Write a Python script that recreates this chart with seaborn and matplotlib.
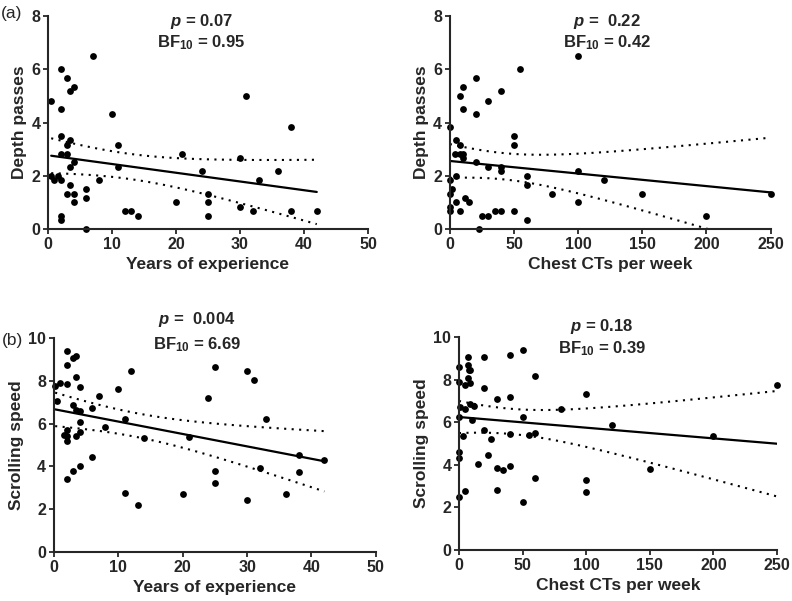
import numpy as np
import pandas as pd
import seaborn as sns
import matplotlib
matplotlib.use("Agg")
import matplotlib.pyplot as plt

# Dados
anos_a = [0.5, 0.5, 1, 1.5, 2, 2, 2, 2, 2, 2, 2, 3, 3.5, 4, 3.5, 3, 3, 3.5, 4, 3.5,
          3, 4, 4, 6, 6, 6, 7, 8, 10, 11, 11, 12, 13, 14, 20, 21, 24, 25, 25, 25,
          30, 30, 31, 32, 33, 36, 38, 38, 42]
depth_a = [4.83, 2.0, 1.83, 2.0, 6.0, 4.5, 3.5, 2.83, 1.83, 0.5, 0.33, 5.67, 5.17, 5.33,
           3.33, 3.17, 2.83, 2.33, 2.5, 1.67, 1.33, 1.33, 1.0, 1.5, 1.17, 0.0, 6.5, 1.83,
           4.33, 3.17, 2.33, 0.67, 0.67, 0.5, 1.0, 2.83, 2.17, 1.33, 1.0, 0.5, 2.67, 0.83,
           5.0, 0.67, 1.83, 2.17, 3.83, 0.67, 0.67]

cts_a = [0, 0, 0, 2, 0, 0, 5, 4, 5, 5, 8, 8, 8, 10, 10, 10, 10, 8, 12, 15, 20, 20, 20,
         23, 25, 30, 30, 30, 35, 40, 40, 40, 40, 50, 50, 50, 55, 60, 60, 60, 80, 100,
         100, 100, 120, 150, 200, 250]
depth_c = [3.83, 1.83, 1.33, 1.5, 0.83, 0.67, 3.33, 2.83, 2.0, 1.0, 3.17, 2.83, 5.0, 5.33,
           4.5, 2.83, 2.67, 0.67, 1.17, 1.0, 5.67, 4.33, 2.5, 0.0, 0.5, 4.83, 2.33, 0.5,
           0.67, 5.17, 2.33, 2.17, 0.67, 3.5, 3.17, 0.67, 6.0, 2.0, 1.67, 0.33, 1.33, 6.5,
           2.17, 1.0, 1.83, 1.33, 0.5, 1.33]

anos_b = [0.2, 0.5, 1, 2, 2, 2, 1.5, 2, 2, 2, 2, 3, 3.5, 3, 3, 3.5, 3.5, 3.5, 4, 4, 4, 4,
          4, 6, 6, 7, 8, 10, 11, 11, 12, 13, 14, 20, 21, 24, 25, 25, 25, 30, 30, 31, 32,
          33, 36, 38, 38, 42]
scroll_a = [7.77, 7.08, 7.88, 9.39, 8.73, 7.83, 5.48, 5.72, 5.4, 5.2, 3.39, 9.06, 9.17,
            6.86, 3.77, 8.17, 6.63, 5.42, 7.7, 6.6, 6.1, 5.6, 4.03, 6.73, 4.44, 7.3, 5.83,
            7.61, 6.23, 2.78, 8.45, 2.22, 5.33, 2.73, 5.36, 7.19, 8.63, 3.81, 3.23, 8.45,
            2.45, 8.05, 3.92, 6.23, 2.72, 4.53, 3.75, 4.3]

cts_b = [0, 0, 0, 0, 0, 0, 1, 3, 5, 5, 5, 7, 7, 7, 8, 9, 9, 9, 10, 12, 15, 20, 20, 20, 25,
         23, 30, 30, 30, 35, 40, 40, 40, 40, 50, 50, 50, 55, 60, 60, 60, 80, 100, 100,
         100, 120, 150, 200, 250]
scroll_c = [8.62, 7.9, 6.27, 4.58, 4.33, 2.48, 6.74, 5.36, 2.76, 6.63, 7.77, 9.09, 8.71,
            8.06, 8.45, 8.45, 7.84, 6.87, 6.1, 6.76, 4.04, 9.06, 7.63, 5.63, 5.2, 4.45,
            7.08, 3.86, 2.81, 3.76, 9.17, 7.19, 5.47, 3.95, 9.39, 6.24, 2.26, 5.42, 8.17,
            5.49, 3.4, 6.6, 7.32, 3.28, 2.74, 5.86, 3.79, 5.34, 7.73]

p_textos = ["0.07", " 0.22", " 0.004", "0.18"]
bf_textos = ["0.95", "0.42", "6.69", "0.39"]

T_CRIT = 2.013  # t(0.975, ~46 gl)

sns.set_style("ticks")
plt.rcParams["font.family"] = ["Liberation Sans", "DejaVu Sans"]
plt.rcParams["mathtext.fontset"] = "custom"
plt.rcParams["mathtext.rm"] = "Liberation Sans:bold"
plt.rcParams["mathtext.it"] = "Liberation Sans:italic:bold"
plt.rcParams["mathtext.bf"] = "Liberation Sans:bold"

fig = plt.figure(figsize=(7.92, 6.01), dpi=100)
posicoes = [[0.0606, 0.619, 0.404, 0.354],
            [0.568, 0.619, 0.405, 0.354],
            [0.068, 0.0815, 0.4066, 0.356],
            [0.5795, 0.085, 0.4015, 0.354]]


def painel(pos, x, y, xlim, ylim, xticks, yticks, xlabel, ylabel, ptxt, bftxt, txt_x, txt_y):
    ax = fig.add_axes(pos)
    df = pd.DataFrame({"x": x, "y": y})
    sns.regplot(data=df, x="x", y="y", ax=ax, ci=None, color="black",
                scatter_kws={"s": 24, "alpha": 1, "linewidths": 0, "clip_on": False},
                line_kws={"lw": 1.6})
    # banda de confianca 95% da reta
    xv = np.asarray(x, float)
    yv = np.asarray(y, float)
    n = len(xv)
    b, a = np.polyfit(xv, yv, 1)
    res = yv - (a + b * xv)
    s = np.sqrt(np.sum(res ** 2) / (n - 2))
    sxx = np.sum((xv - xv.mean()) ** 2)
    xg = np.linspace(xv.min(), xv.max(), 100)
    yg = a + b * xg
    half = T_CRIT * s * np.sqrt(1 / n + (xg - xv.mean()) ** 2 / sxx)
    ax.plot(xg, yg + half, color="black", lw=1.5, ls=(0, (1, 2.6)))
    ax.plot(xg, yg - half, color="black", lw=1.5, ls=(0, (1, 2.6)))

    ax.set_xlim(xlim)
    ax.set_ylim(ylim)
    ax.set_xticks(xticks)
    ax.set_yticks(yticks)
    sns.despine(ax=ax)
    for sp in ["left", "bottom"]:
        ax.spines[sp].set_linewidth(1.5)
    ax.tick_params(direction="out", length=3.5, width=1.3, labelsize=11.5, pad=2)
    for lab in ax.get_xticklabels() + ax.get_yticklabels():
        lab.set_fontweight("bold")
    ax.set_xlabel(xlabel, fontsize=12.5, fontweight="bold", labelpad=4)
    ax.set_ylabel(ylabel, fontsize=12.5, fontweight="bold", labelpad=3)
    ax.text(txt_x, txt_y[0], r"$\mathit{p}$ = " + ptxt, transform=ax.transAxes,
            ha="center", va="center", fontsize=12, fontweight="bold")
    ax.text(txt_x, txt_y[1], r"BF$_{\mathbf{10}}$ = " + bftxt, transform=ax.transAxes,
            ha="center", va="center", fontsize=12, fontweight="bold")
    return ax


painel(posicoes[0], anos_a, depth_a, (0, 50), (0, 8), range(0, 51, 10), range(0, 9, 2),
       "Years of experience", "Depth passes", p_textos[0], bf_textos[0], 0.48, (0.975, 0.875))
painel(posicoes[1], cts_a, depth_c, (0, 250), (0, 8), range(0, 251, 50), range(0, 9, 2),
       "Chest CTs per week", "Depth passes", p_textos[1], bf_textos[1], 0.49, (0.975, 0.875))
painel(posicoes[2], anos_b, scroll_a, (0, 50), (0, 10), range(0, 51, 10), range(0, 11, 2),
       "Years of experience", "Scrolling speed", p_textos[2], bf_textos[2], 0.445, (1.085, 0.97))
painel(posicoes[3], cts_b, scroll_c, (0, 250), (0, 10), range(0, 251, 50), range(0, 11, 2),
       "Chest CTs per week", "Scrolling speed", p_textos[3], bf_textos[3], 0.45, (1.05, 0.945))

fig.text(0.015, 0.978, "(a)", fontsize=12.5, ha="center", va="center")
fig.text(0.016, 0.434, "(b)", fontsize=12.5, ha="center", va="center")

fig.savefig("out.png", dpi=100)
